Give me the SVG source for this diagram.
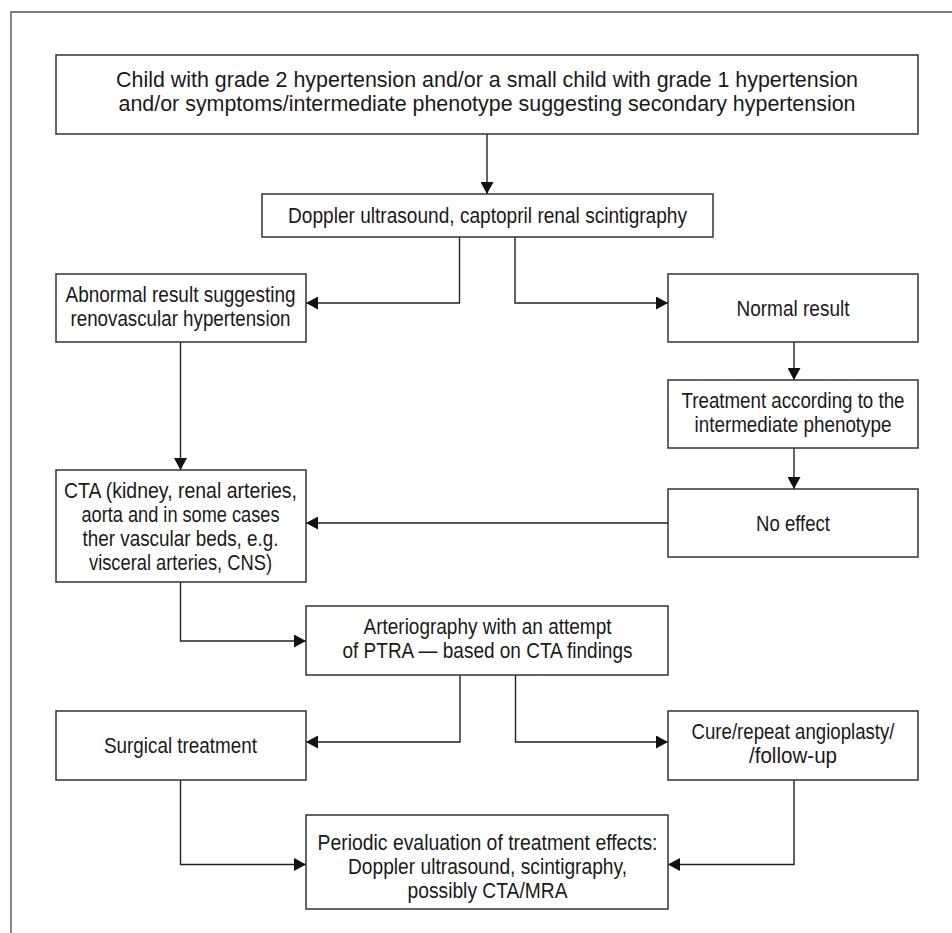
<svg xmlns="http://www.w3.org/2000/svg" width="952" height="933" viewBox="0 0 952 933">
<style>
.frame{fill:none;stroke:#555;stroke-width:1.4}
.box{fill:#fff;stroke:#333;stroke-width:1.5}
.conn{fill:none;stroke:#222;stroke-width:1.4}
text{font-family:"Liberation Sans",Arial,sans-serif;font-size:22px;fill:#1a1a1a;text-anchor:middle}
</style>
<defs>
<marker id="arr" markerUnits="userSpaceOnUse" markerWidth="13" markerHeight="13" refX="12" refY="6.5" orient="auto">
<path d="M0,0 L12,6.5 L0,13 z" fill="#111"/>
</marker>
</defs>
<rect width="952" height="933" fill="#fff"/>
<path class="frame" d="M11,933 V12 H952"/>
<g id="connectors">
<path class="conn" d="M487,134 V194" marker-end="url(#arr)"/>
<path class="conn" d="M459.5,237 V303 H306" marker-end="url(#arr)"/>
<path class="conn" d="M515,237 V303 H668" marker-end="url(#arr)"/>
<path class="conn" d="M794,342 V380" marker-end="url(#arr)"/>
<path class="conn" d="M794,448 V489" marker-end="url(#arr)"/>
<path class="conn" d="M180.5,342 V470" marker-end="url(#arr)"/>
<path class="conn" d="M668,523 H306" marker-end="url(#arr)"/>
<path class="conn" d="M180.5,582 V641 H306" marker-end="url(#arr)"/>
<path class="conn" d="M460,675 V742 H306" marker-end="url(#arr)"/>
<path class="conn" d="M515.5,675 V742 H668" marker-end="url(#arr)"/>
<path class="conn" d="M180.5,780 V864.5 H306" marker-end="url(#arr)"/>
<path class="conn" d="M794,780 V864.5 H668" marker-end="url(#arr)"/>
</g>
<g id="n-start">
<rect class="box" x="56" y="55" width="862" height="79"/>
<text x="487" y="87.3" textLength="742" lengthAdjust="spacingAndGlyphs">Child with grade 2 hypertension and/or a small child with grade 1 hypertension</text>
<text x="487" y="111" textLength="737" lengthAdjust="spacingAndGlyphs">and/or symptoms/intermediate phenotype suggesting secondary hypertension</text>
</g>
<g id="n-doppler">
<rect class="box" x="262" y="194" width="451" height="43"/>
<text x="487.5" y="222.7" textLength="399" lengthAdjust="spacingAndGlyphs">Doppler ultrasound, captopril renal scintigraphy</text>
</g>
<g id="n-abnormal">
<rect class="box" x="56" y="274" width="250" height="68"/>
<text x="180.5" y="301.7" textLength="230" lengthAdjust="spacingAndGlyphs">Abnormal result suggesting</text>
<text x="180.5" y="326" textLength="220" lengthAdjust="spacingAndGlyphs">renovascular hypertension</text>
</g>
<g id="n-normal">
<rect class="box" x="668" y="274" width="250" height="68"/>
<text x="793" y="315.7" textLength="113" lengthAdjust="spacingAndGlyphs">Normal result</text>
</g>
<g id="n-treatment">
<rect class="box" x="668" y="380" width="250" height="68"/>
<text x="793" y="407.7" textLength="223" lengthAdjust="spacingAndGlyphs">Treatment according to the</text>
<text x="793" y="432" textLength="197" lengthAdjust="spacingAndGlyphs">intermediate phenotype</text>
</g>
<g id="n-noeffect">
<rect class="box" x="668" y="489" width="250" height="68"/>
<text x="793" y="531" textLength="74" lengthAdjust="spacingAndGlyphs">No effect</text>
</g>
<g id="n-cta">
<rect class="box" x="56" y="470" width="250" height="112"/>
<text x="180.5" y="498" textLength="233" lengthAdjust="spacingAndGlyphs">CTA (kidney, renal arteries,</text>
<text x="180.5" y="522" textLength="198" lengthAdjust="spacingAndGlyphs">aorta and in some cases</text>
<text x="180.5" y="546" textLength="196" lengthAdjust="spacingAndGlyphs">ther vascular beds, e.g.</text>
<text x="180.5" y="570" textLength="183" lengthAdjust="spacingAndGlyphs">visceral arteries, CNS)</text>
</g>
<g id="n-arterio">
<rect class="box" x="306" y="606" width="362" height="69"/>
<text x="487.5" y="633.7" textLength="248" lengthAdjust="spacingAndGlyphs">Arteriography with an attempt</text>
<text x="487.5" y="658" textLength="290" lengthAdjust="spacingAndGlyphs">of PTRA — based on CTA findings</text>
</g>
<g id="n-surgical">
<rect class="box" x="56" y="711" width="250" height="69"/>
<text x="180.5" y="753" textLength="153" lengthAdjust="spacingAndGlyphs">Surgical treatment</text>
</g>
<g id="n-cure">
<rect class="box" x="668" y="711" width="250" height="69"/>
<text x="793" y="738.5" textLength="203" lengthAdjust="spacingAndGlyphs">Cure/repeat angioplasty/</text>
<text x="793" y="762.5" textLength="88" lengthAdjust="spacingAndGlyphs">/follow-up</text>
</g>
<g id="n-periodic">
<rect class="box" x="306" y="815" width="362" height="94"/>
<text x="487.5" y="850" textLength="340" lengthAdjust="spacingAndGlyphs">Periodic evaluation of treatment effects:</text>
<text x="487.5" y="874" textLength="279" lengthAdjust="spacingAndGlyphs">Doppler ultrasound, scintigraphy,</text>
<text x="487.5" y="898" textLength="160" lengthAdjust="spacingAndGlyphs">possibly CTA/MRA</text>
</g>
</svg>
